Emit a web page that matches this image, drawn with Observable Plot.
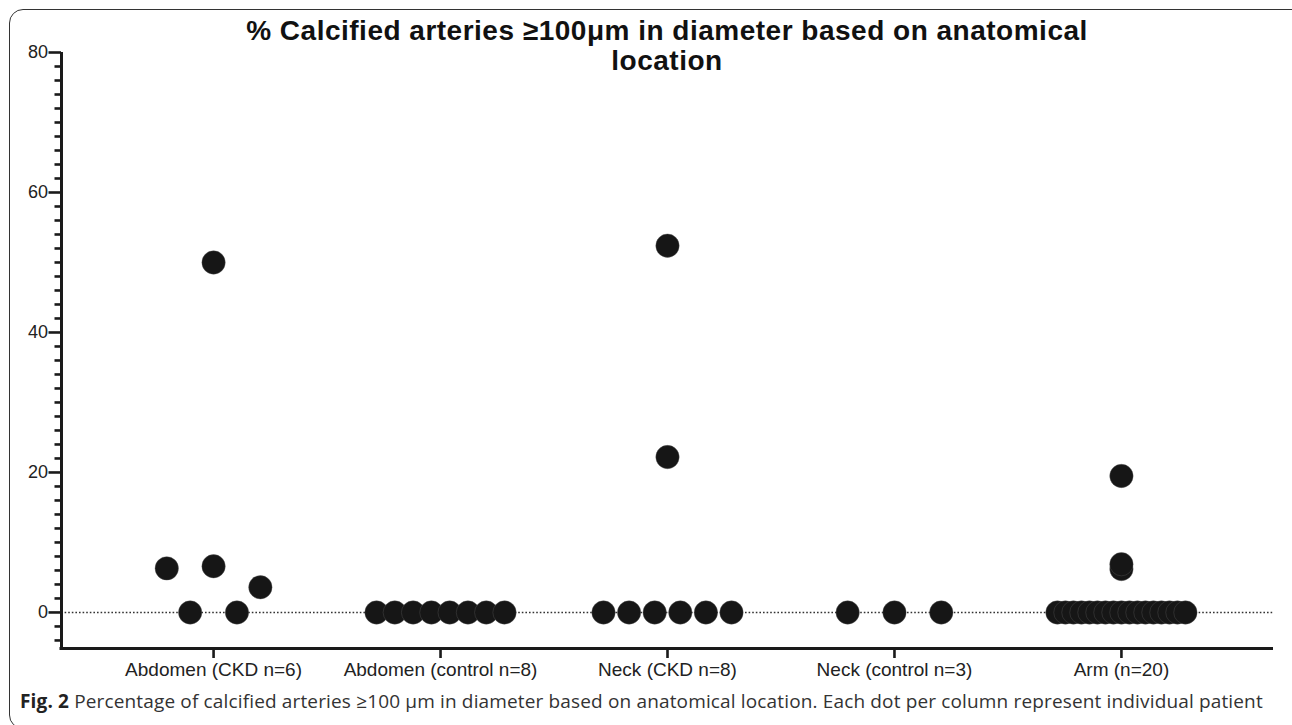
<!DOCTYPE html>
<html>
<head>
<meta charset="utf-8">
<script src="https://cdn.jsdelivr.net/npm/d3@7"></script>
<script src="https://cdn.jsdelivr.net/npm/@observablehq/plot@0.6"></script>
<style>
  html, body { margin: 0; padding: 0; background: #fff; }
  body { width: 1292px; height: 725px; overflow: hidden; position: relative; font-family: "Liberation Sans", Arial, sans-serif; }
  #frame { position: absolute; left: 9px; top: 9px; width: 1310px; height: 720px; border: 1.6px solid #333; border-radius: 14px; box-sizing: border-box; pointer-events: none; }
  #chart { position: absolute; left: 0; top: 0; }
  #title { position: absolute; left: 61px; width: 1212px; top: 16px; text-align: center; font-weight: bold; font-size: 28px; line-height: 30px; letter-spacing: 0.5px; color: #111; }
  #caption { position: absolute; left: 20px; top: 689px; font-family: "Open Sans", sans-serif; font-size: 19px; line-height: 24px; letter-spacing: 0.15px; color: #333; white-space: nowrap; }
  #caption b { color: #222; }
</style>
</head>
<body>
<div id="chart"></div>
<div id="title">% Calcified arteries ≥100μm in diameter based on anatomical<br>location</div>
<div id="caption"><b>Fig. 2</b> Percentage of calcified arteries ≥100 μm in diameter based on anatomical location. Each dot per column represent individual patient</div>
<div id="frame"></div>
<script>
// ---- data ----
const categories = ["Abdomen (CKD n=6)", "Abdomen (control n=8)", "Neck (CKD n=8)", "Neck (control n=3)", "Arm (n=20)"];
const abdomenCKD = [6.3, 0, 50.0, 6.6, 0, 3.6];
const abdomenControl = [0, 0, 0, 0, 0, 0, 0, 0];
const neckCKD = [0, 0, 0, 52.4, 22.2, 0, 0, 0];
const neckControl = [0, 0, 0];
const arm = [0, 0, 0, 0, 0, 0, 0, 0, 0, 6.2, 6.9, 19.5, 0, 0, 0, 0, 0, 0, 0, 0];
const seriesValues = [abdomenCKD, abdomenControl, neckCKD, neckControl, arm];
const yMajorTicks = [0, 20, 40, 60, 80];

// ---- layout ----
const W = 1292, H = 725;
const mL = 61, mR = 19, mT = 52, mB = 77;
const xPad = 0.67;                       // outer padding in category steps
const yDomain = [-5.15, 80];
const xDomain = [-xPad, categories.length - 1 + xPad];
const pxPerCat = (W - mL - mR) / (xDomain[1] - xDomain[0]);
const pxPerVal = (H - mT - mB) / (yDomain[1] - yDomain[0]);
const R = 11.7;                          // dot radius px
const maxSpread = 128;                   // px, max width of a row of dots
const maxStep = 2 * 2 * R;               // px, max spacing between dots in a row

// scatter-dot layout: values binned into rows one dot-diameter high, each row spread evenly
const points = [];
seriesValues.forEach((vals, ci) => {
  const rows = d3.groups(vals.map((v, i) => i), i => Math.floor(vals[i] * pxPerVal / (2 * R)));
  rows.forEach(([, row]) => {
    const n = row.length;
    const step = n > 1 ? Math.min(maxStep, maxSpread / (n - 1)) : 0;
    row.forEach((i, j) => {
      const offPx = (j - (n - 1) / 2) * step;
      points.push({cat: categories[ci], x: ci + offPx / pxPerCat, v: vals[i]});
    });
  });
});

const minorTicks = d3.range(-4, 81, 2).filter(t => t % 20 !== 0);

const plot = Plot.plot({
  width: W,
  height: H,
  marginLeft: mL,
  marginRight: mR,
  marginTop: mT,
  marginBottom: mB,
  style: {fontFamily: "'Liberation Sans', Arial, sans-serif", fontSize: "19px", color: "#222", background: "transparent"},
  x: {type: "linear", domain: xDomain, axis: null},
  y: {domain: yDomain, axis: null},
  marks: [
    Plot.ruleY([0], {stroke: "#333", strokeWidth: 1.6, strokeDasharray: "1.6,2"}),
    Plot.axisY(minorTicks, {tickSize: 6.5, tickFormat: () => "", strokeWidth: 2.6, stroke: "#1a1a1a", label: null}),
    Plot.axisY(yMajorTicks, {tickSize: 12.5, tickPadding: 1, strokeWidth: 2.6, stroke: "#1a1a1a", fill: "#222", fontSize: 18, label: null}),
    Plot.axisX(d3.range(categories.length), {tickSize: 10, tickPadding: 4, tickFormat: i => categories[i], strokeWidth: 2.6, stroke: "#1a1a1a", fill: "#222", fontSize: 19, label: null}),
    Plot.ruleX([xDomain[0]], {y1: yDomain[0], y2: yDomain[1], stroke: "#1a1a1a", strokeWidth: 3}),
    Plot.ruleY([yDomain[0]], {x1: xDomain[0], x2: xDomain[1], stroke: "#1a1a1a", strokeWidth: 3, insetLeft: -1.5}),
    Plot.dot(points, {x: "x", y: "v", r: R, fill: "#161616", stroke: "#555", strokeWidth: 0.4})
  ]
});
document.getElementById("chart").appendChild(plot);
</script>
</body>
</html>
